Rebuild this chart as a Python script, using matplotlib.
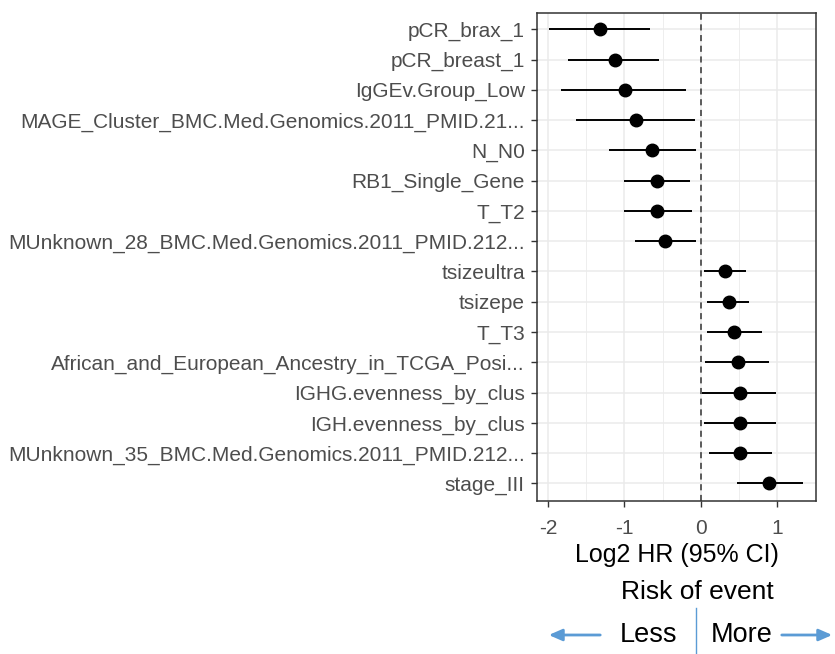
import matplotlib
matplotlib.use("Agg")
import matplotlib.pyplot as plt

plt.rcParams['font.family'] = ['Liberation Sans', 'DejaVu Sans']

labels = [
    "pCR_brax_1",
    "pCR_breast_1",
    "IgGEv.Group_Low",
    "MAGE_Cluster_BMC.Med.Genomics.2011_PMID.21...",
    "N_N0",
    "RB1_Single_Gene",
    "T_T2",
    "MUnknown_28_BMC.Med.Genomics.2011_PMID.212...",
    "tsizeultra",
    "tsizepe",
    "T_T3",
    "African_and_European_Ancestry_in_TCGA_Posi...",
    "IGHG.evenness_by_clus",
    "IGH.evenness_by_clus",
    "MUnknown_35_BMC.Med.Genomics.2011_PMID.212...",
    "stage_III",
]
log2hr = [-1.32, -1.13, -0.99, -0.845, -0.635, -0.57, -0.57, -0.465,
          0.315, 0.375, 0.44, 0.485, 0.51, 0.51, 0.51, 0.89]
ci_low = [-1.99, -1.74, -1.83, -1.63, -1.20, -1.00, -1.00, -0.86,
          0.04, 0.083, 0.083, 0.06, 0.02, 0.04, 0.11, 0.47]
ci_high = [-0.665, -0.55, -0.19, -0.08, -0.06, -0.145, -0.12, -0.06,
           0.60, 0.64, 0.80, 0.89, 0.985, 0.985, 0.935, 1.34]
xticks = [-2, -1, 0, 1]
xlabel = "Log2 HR (95% CI)"

fig = plt.figure(figsize=(8.35, 6.54), dpi=100)
ax = fig.add_axes([537.3/835, 1 - 500.7/654, (816 - 537.3)/835, (500.7 - 13)/654])

ypos = list(range(1, len(labels) + 1))
ax.hlines(ypos, ci_low, ci_high, color='black', lw=1.4, zorder=3)
ax.plot(log2hr, ypos, 'o', color='black', markersize=9, zorder=4)
ax.axvline(0, color='#333333', lw=1.1, ls=(0, (4, 3)), zorder=2)

ax.set_xlim(-2.144, 1.513)
ax.set_ylim(len(labels) + 0.575, 0.46)
ax.set_yticks(ypos)
ax.set_yticklabels(labels)
ax.set_xticks(xticks)
ax.set_xticklabels([str(t) for t in xticks])
ax.set_xticks([-1.5, -0.5, 0.5], minor=True)

ax.grid(True, which='major', color='#EBEBEB', lw=1.1, zorder=0)
ax.grid(True, which='minor', axis='x', color='#EBEBEB', lw=0.6, zorder=0)
ax.set_axisbelow(True)
for s in ax.spines.values():
    s.set_color('#333333')
    s.set_linewidth(1.1)
ax.tick_params(axis='both', which='major', colors='#333333', labelcolor='#4D4D4D',
               labelsize=15, length=4, width=1.0, pad=5)
ax.tick_params(axis='x', which='major', pad=9)
ax.tick_params(axis='x', which='minor', length=0)
ax.set_xlabel(xlabel, fontsize=18, color='black', labelpad=4)

# Risk annotation below
blue = '#5B9BD5'
fig.text(697/835, 1 - 592/654, "Risk of event", fontsize=19, ha='center', va='center')
fig.text(649/835, 1 - 635/654, "Less", fontsize=19.5, ha='center', va='center')
fig.text(742/835, 1 - 635/654, "More", fontsize=19.5, ha='center', va='center')
ax_ann = fig.add_axes([0, 0, 1, 1], facecolor='none')
ax_ann.set_xlim(0, 835)
ax_ann.set_ylim(654, 0)
ax_ann.axis('off')
ax_ann.plot([695.7, 695.7], [608, 654], color=blue, lw=1.0)
ax_ann.annotate('', xy=(546, 635), xytext=(603, 635),
                arrowprops=dict(arrowstyle='-|>,head_length=0.8,head_width=0.35', color=blue, lw=2))
ax_ann.annotate('', xy=(835, 635), xytext=(779, 635),
                arrowprops=dict(arrowstyle='-|>,head_length=0.8,head_width=0.35', color=blue, lw=2))

fig.savefig("out.png", dpi=100)
